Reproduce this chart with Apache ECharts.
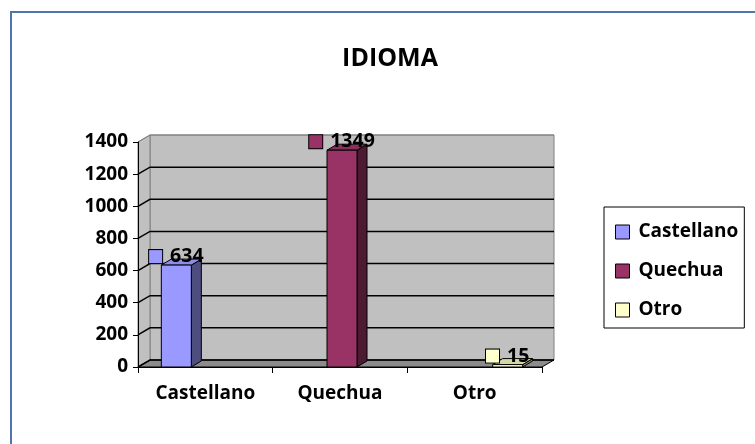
<!DOCTYPE html>
<html>
<head>
<meta charset="utf-8">
<script src="https://cdn.jsdelivr.net/npm/echarts@6/dist/echarts.min.js"></script>
<style>
html, body { margin: 0; padding: 0; background: #fff; }
body { position: relative; width: 755px; height: 444px; overflow: hidden; }
#frame { position: absolute; left: 10px; top: 11px; width: 800px; height: 500px; border: 2px solid #4f76aa; box-sizing: border-box; }
#main { position: absolute; left: 0; top: 0; width: 755px; height: 444px; }
</style>
</head>
<body>
<div id="frame"></div>
<div id="main"></div>
<script>
const chartTitle = 'IDIOMA';
const categories = ['Castellano', 'Quechua', 'Otro'];
const castellano = [634, 0, 0];
const quechua = [0, 1349, 0];
const otro = [0, 0, 15];
const yTicks = [0, 200, 400, 600, 800, 1000, 1200, 1400];

const FONT = '"Open Sans", "Liberation Sans", sans-serif';

// fake 3D depth (px)
const WALL_DX = 12, WALL_DY = -7;
const BAR_DX = 10, BAR_DY = -6;
const BAR_W = 30, SLOT = 31, SHIFT = 2;

const faces = {
    Castellano: { front: '#9999ff', top: '#8c8cee', side: '#4d4d80' },
    Quechua: { front: '#993366', top: '#8a2e5c', side: '#4d1a33' },
    Otro: { front: '#ffffcc', top: '#d6d6a6', side: '#808066' }
};

function wallsSeries() {
    return {
        type: 'custom',
        name: 'walls',
        silent: true,
        clip: false,
        z: 1,
        data: yTicks.map(v => [0, v]),
        renderItem: function (params, api) {
            const cs = params.coordSys;
            const x0 = cs.x, x1 = cs.x + cs.width;
            const yt = cs.y, yb = cs.y + cs.height;
            const v = api.value(1);
            const y = api.coord([0, v])[1];
            const children = [];
            if (params.dataIndex === 0) {
                children.push({
                    type: 'polygon',
                    shape: { points: [[x0 + WALL_DX, yt + WALL_DY], [x1 + WALL_DX, yt + WALL_DY], [x1 + WALL_DX, yb + WALL_DY], [x0 + WALL_DX, yb + WALL_DY]] },
                    style: { fill: '#c0c0c0', stroke: '#808080', lineWidth: 1 }
                });
                children.push({
                    type: 'polygon',
                    shape: { points: [[x0, yt], [x0 + WALL_DX, yt + WALL_DY], [x0 + WALL_DX, yb + WALL_DY], [x0, yb]] },
                    style: { fill: '#c0c0c0', stroke: '#808080', lineWidth: 1 }
                });
                children.push({
                    type: 'polygon',
                    shape: { points: [[x0, yb], [x0 + WALL_DX, yb + WALL_DY], [x1 + WALL_DX, yb + WALL_DY], [x1, yb]] },
                    style: { fill: '#8c8c8c', stroke: '#000', lineWidth: 1 }
                });
            }
            const isTop = v === yTicks[yTicks.length - 1];
            children.push({
                type: 'polyline',
                shape: { points: [[x0, y], [x0 + WALL_DX, y + WALL_DY], [x1 + WALL_DX, y + WALL_DY]] },
                style: { fill: null, stroke: isTop ? '#808080' : '#000', lineWidth: isTop ? 1 : 1.5 }
            });
            return { type: 'group', children: children };
        }
    };
}

function barSeries(name, values, slot) {
    const f = faces[name];
    return {
        type: 'custom',
        name: name,
        clip: false,
        z: 3,
        itemStyle: { color: f.front, borderColor: '#000', borderWidth: 1 },
        data: values.map((v, i) => [i, v]),
        renderItem: function (params, api) {
            const v = api.value(1);
            if (!v) return null;
            const topPt = api.coord([api.value(0), v]);
            const basePt = api.coord([api.value(0), 0]);
            const cx = topPt[0] + slot * SLOT + SHIFT;
            const l = cx - BAR_W / 2, r = cx + BAR_W / 2;
            const t = topPt[1], b = basePt[1];
            const edge = { stroke: '#000', lineWidth: 1 };
            return {
                type: 'group',
                children: [
                    {
                        type: 'polygon',
                        shape: { points: [[r, t], [r + BAR_DX, t + BAR_DY], [r + BAR_DX, b + BAR_DY], [r, b]] },
                        style: Object.assign({ fill: f.side }, edge)
                    },
                    {
                        type: 'polygon',
                        shape: { points: [[l, t], [l + BAR_DX, t + BAR_DY], [r + BAR_DX, t + BAR_DY], [r, t]] },
                        style: Object.assign({ fill: f.top }, edge)
                    },
                    {
                        type: 'rect',
                        shape: { x: l, y: t, width: BAR_W, height: b - t },
                        style: Object.assign({ fill: f.front }, edge)
                    },
                    {
                        type: 'text',
                        z2: 10,
                        style: {
                            text: '{s|}{v|' + v + '}',
                            x: cx,
                            y: t - 8.5,
                            align: 'center',
                            verticalAlign: 'middle',
                            rich: {
                                s: { width: 13, height: 13, backgroundColor: f.front, borderColor: '#000', borderWidth: 1 },
                                v: { fontSize: 19.5, fontWeight: 'bold', fontFamily: FONT, color: '#1a1a1a', padding: [0, 0, 0, 8] }
                            }
                        }
                    }
                ]
            };
        }
    };
}

const chart = echarts.init(document.getElementById('main'));
const option = {
    animation: false,
    backgroundColor: 'transparent',
    title: {
        text: chartTitle,
        left: 390,
        top: 46,
        textAlign: 'center',
        padding: 0,
        textStyle: { fontSize: 25, fontWeight: 'bold', fontFamily: FONT, color: '#000' }
    },
    legend: {
        data: categories,
        orient: 'vertical',
        left: 604,
        top: 207,
        padding: [15, 6, 8, 11],
        itemGap: 19,
        itemWidth: 14,
        itemHeight: 14,
        icon: 'rect',
        borderColor: '#000',
        borderWidth: 1,
        itemStyle: { borderColor: '#000', borderWidth: 1 },
        textStyle: { fontSize: 19, fontWeight: 'bold', fontFamily: FONT, color: '#000', lineHeight: 20, padding: [0, 0, 0, 4] }
    },
    grid: { left: 138, top: 142, width: 404, height: 225 },
    xAxis: {
        type: 'category',
        data: categories,
        z: 5,
        axisLine: { lineStyle: { color: '#000', width: 1 } },
        axisTick: { show: true, length: 6, interval: 0, lineStyle: { color: '#000' } },
        axisLabel: { margin: 17, fontSize: 19, fontWeight: 'bold', fontFamily: FONT, color: '#000' },
        splitLine: { show: false }
    },
    yAxis: {
        type: 'value',
        min: 0,
        max: 1400,
        interval: 200,
        z: 5,
        axisLine: { show: true, lineStyle: { color: '#000', width: 1 } },
        axisTick: { show: true, length: 5, lineStyle: { color: '#000' } },
        axisLabel: {
            margin: 10, fontSize: 19, fontWeight: 'bold', fontFamily: FONT, color: '#000',
            formatter: function (v) { return String(v); }
        },
        splitLine: { show: false }
    },
    series: [
        wallsSeries(),
        barSeries('Castellano', castellano, -1),
        barSeries('Quechua', quechua, 0),
        barSeries('Otro', otro, 1)
    ]
};
chart.setOption(option);
</script>
</body>
</html>
